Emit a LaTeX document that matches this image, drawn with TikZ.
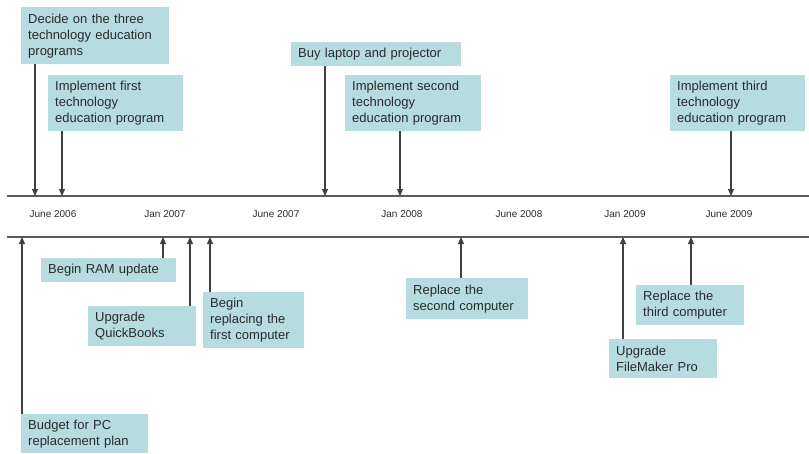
\documentclass[tikz,border=0pt]{standalone}
\usepackage{fontspec}
\setmainfont{Liberation Sans}
\usetikzlibrary{arrows.meta}
\definecolor{boxc}{HTML}{B6DCE0}
\definecolor{linec}{HTML}{5A5A5A}
\definecolor{txtc}{HTML}{2A2A2A}
\tikzset{
  tbox/.style={fill=boxc, anchor=north west, inner xsep=7pt, inner ysep=3pt,
    align=left, text=txtc, font=\fontsize{13}{16}\selectfont},
  datelbl/.style={font=\fontsize{10}{12}\selectfont, text=txtc},
  axis/.style={draw=linec, line width=1.4pt},
  conn/.style={draw=black!75, line width=1.2pt, -{Triangle[length=7pt,width=6pt]}}
}
\newcommand{\tb}[7]{%
  \node[tbox, minimum width=#4pt, minimum height=#5pt, text width=#4pt-14pt] (#1) at (#2,#3) {#7};}
\begin{document}
\begin{tikzpicture}[x=1pt,y=-1pt]
\useasboundingbox (0,0) rectangle (809,453);
% axis lines
\coordinate (tl) at (7,196); \coordinate (tr) at (809,196);
\coordinate (bl) at (7,237); \coordinate (br) at (809,237);
\draw[axis] (tl) -- (tr);
\draw[axis] (bl) -- (br);
% dates
\node[datelbl] (d1) at (53,214) {June 2006};
\node[datelbl] (d2) at (165,214) {Jan 2007};
\node[datelbl] (d3) at (276,214) {June 2007};
\node[datelbl] (d4) at (402,214) {Jan 2008};
\node[datelbl] (d5) at (519,214) {June 2008};
\node[datelbl] (d6) at (625,214) {Jan 2009};
\node[datelbl] (d7) at (729,214) {June 2009};
% top boxes
\tb{decide}{21}{7}{148}{57}{}{Decide on the three\\technology education\\programs}
\tb{impa}{48}{75}{135}{56}{}{Implement first\\technology\\education program}
\tb{buy}{291}{42}{170}{24}{}{Buy laptop and projector}
\tb{impb}{345}{75}{136}{56}{}{Implement second\\technology\\education program}
\tb{impc}{670}{75}{135}{56}{}{Implement third\\technology\\education program}
% bottom boxes
\tb{ram}{41}{258}{135}{24}{}{Begin RAM update}
\tb{qb}{88}{306}{108}{40}{}{Upgrade\\QuickBooks}
\tb{brep}{203}{292}{101}{56}{}{Begin\\replacing the\\first computer}
\tb{budget}{21}{414}{127}{39}{}{Budget for PC\\replacement plan}
\tb{repb}{406}{278}{122}{41}{}{Replace the\\second computer}
\tb{repc}{636}{285}{108}{40}{}{Replace the\\third computer}
\tb{fm}{609}{339}{108}{39}{}{Upgrade\\FileMaker Pro}
% connector end points on the axis lines
\coordinate (ta) at (35,196);
\coordinate (tb) at (62,196);
\coordinate (tc) at (325,196);
\coordinate (td) at (400,196);
\coordinate (te) at (731,196);
\coordinate (ba) at (22,237);
\coordinate (bb) at (163,237);
\coordinate (bc) at (190,237);
\coordinate (bd) at (210,237);
\coordinate (be) at (461,237);
\coordinate (bf) at (623,237);
\coordinate (bg) at (691,237);
% top connectors
\draw[conn] (decide.south -| ta) -- (ta);
\draw[conn] (impa.south -| tb) -- (tb);
\draw[conn] (buy.south -| tc) -- (tc);
\draw[conn] (impb.south -| td) -- (td);
\draw[conn] (impc.south -| te) -- (te);
% bottom connectors
\draw[conn] (budget.north -| ba) -- (ba);
\draw[conn] (ram.north -| bb) -- (bb);
\draw[conn] (qb.north -| bc) -- (bc);
\draw[conn] (brep.north -| bd) -- (bd);
\draw[conn] (repb.north -| be) -- (be);
\draw[conn] (fm.north -| bf) -- (bf);
\draw[conn] (repc.north -| bg) -- (bg);
\end{tikzpicture}
\end{document}
